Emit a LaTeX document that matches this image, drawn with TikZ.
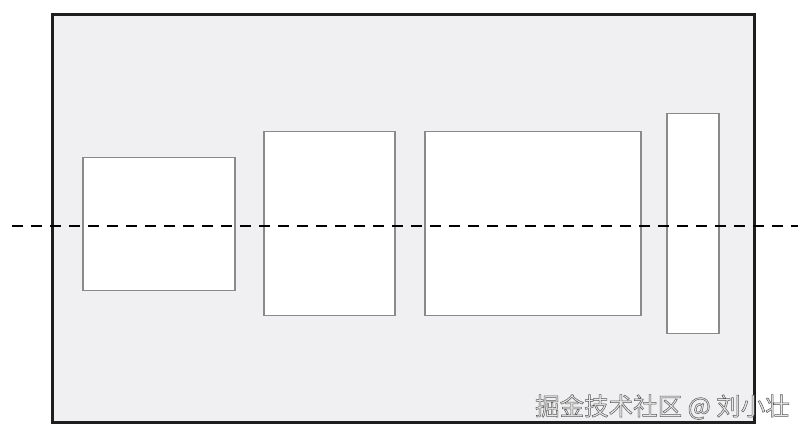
\documentclass[tikz,border=0pt]{standalone}
\usepackage{fontspec}
\newfontfamily\cjkfont{Noto Sans CJK SC}
\definecolor{framefill}{HTML}{F0F0F2}
\definecolor{framedraw}{HTML}{1E1E1E}
\definecolor{boxdraw}{HTML}{8A8A8A}
\definecolor{marktext}{HTML}{E8E8E8}
\begin{document}
\begin{tikzpicture}[x=1pt,y=-1pt,
  framebox/.style={draw=framedraw,fill=framefill,line width=2.6pt,inner sep=0pt,anchor=north west},
  partbox/.style={draw=boxdraw,fill=white,line width=1.5pt,inner sep=0pt,anchor=north west},
  axisline/.style={draw=black,line width=2pt,dash pattern=on 11pt off 8pt},
  watermark/.style={font=\cjkfont\fontsize{24.5}{26}\selectfont,text=marktext,anchor=east,inner sep=0pt}]
\useasboundingbox (0,0) rectangle (807,435);
\node[framebox,minimum width=702pt,minimum height=408pt] (frame) at (51,13) {};
\node[partbox,minimum width=152pt,minimum height=133pt] (b1) at (82,157) {};
\node[partbox,minimum width=131pt,minimum height=184pt] (b2) at (263,131) {};
\node[partbox,minimum width=216pt,minimum height=184pt] (b3) at (424,131) {};
\node[partbox,minimum width=52pt,minimum height=220pt] (b4) at (666,113) {};
\coordinate (axl) at (12,226);
\coordinate (axr) at (798,226);
\draw[axisline] (axl) -- (axr);
\node[watermark] (wm) at (790,407) {\special{pdf:literal direct 2 Tr 0.5 w 0.35 0.35 0.35 RG}掘金技术社区 @ 刘小壮\special{pdf:literal direct 0 Tr}};
\end{tikzpicture}
\end{document}
